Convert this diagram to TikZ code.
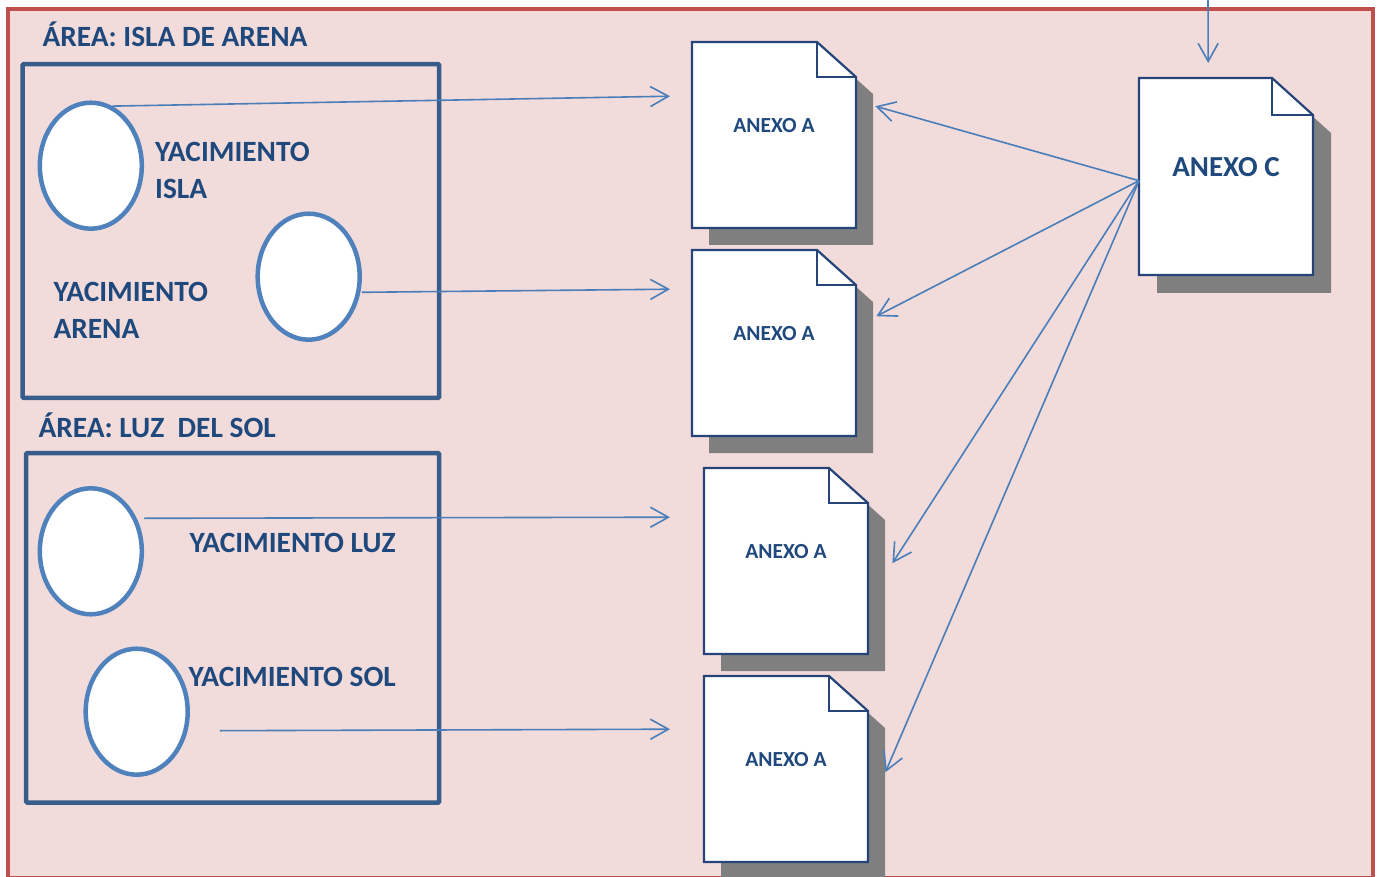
\documentclass[tikz,border=0pt]{standalone}
\usepackage{fontspec}
\setmainfont{Carlito}
\usepackage{tikz}
\usetikzlibrary{arrows.meta,shapes.geometric}

\definecolor{fondo}{RGB}{242,220,219}
\definecolor{marco}{RGB}{192,80,77}
\definecolor{caja}{RGB}{56,93,138}
\definecolor{elipse}{RGB}{79,129,189}
\definecolor{texto}{RGB}{31,73,125}
\definecolor{flecha}{RGB}{74,126,187}
\definecolor{sombra}{RGB}{127,127,127}
\definecolor{borde}{RGB}{36,68,122}

\tikzset{
  area/.style={draw=caja, line width=4.5pt, rounded corners=1pt},
  yac/.style={ellipse, draw=elipse, fill=white, line width=4.5pt, inner sep=0pt,
    minimum width=102pt, minimum height=126pt},
  rotulo/.style={text=texto, font=\fontsize{29.4}{36.6}\selectfont\bfseries,
    anchor=base west, inner sep=0pt, align=left},
  hoja/.style={draw=borde, fill=white, line width=2.2pt, line join=miter},
  conn/.style={draw=flecha, line width=1.6pt, -{Straight Barb[length=18pt,width=20pt]}}
}

\begin{document}
\begin{tikzpicture}[x=1pt, y=-1pt]
  \useasboundingbox (0,0) rectangle (1381,877);
  \clip (0,0) rectangle (1381,877);
  \filldraw[fill=fondo, draw=marco, line width=4.3pt] (7.8,8.7) rectangle (1372.7,878);

  % areas
  \node[rotulo] (t1) at (42.3,46.7) {ÁREA: ISLA DE ARENA};
  \draw[area] (22.5,64.2) rectangle (439.2,397.8);
  \node[rotulo] (t2) at (38.3,437.7) {ÁREA: LUZ \ DEL SOL};
  \draw[area] (26.2,453.2) rectangle (439.2,802.5);

  % yacimientos
  \node[yac] (isla) at (90.8,165.7) {};
  \node[yac] (arena) at (308.7,276.7) {};
  \node[yac] (luz) at (90.8,551.3) {};
  \node[yac] (sol) at (136.7,711.7) {};
  \node[rotulo] (lisla) at (155,198.3) {YACIMIENTO\\ISLA};
  \node[rotulo] (larena) at (53.3,338.3) {YACIMIENTO\\ARENA};
  \node[rotulo] (lluz) at (189.3,552.7) {YACIMIENTO LUZ};
  \node[rotulo] (lsol) at (188.3,686.7) {YACIMIENTO SOL};

  % anexos
  \foreach \n/\x/\y/\w/\h/\f/\g/\s/\b/\fs/\t in {a1/692/42/164/186/39/35/17/90.3/21.5/ANEXO A,
      a2/692/250/164/186/39/35/17/90.3/21.5/ANEXO A,
      a3/704/468/164/186/39/35/17/90.3/21.5/ANEXO A,
      a4/704/676/164/186/39/35/17/90.3/21.5/ANEXO A,
      c/1139/78/174/197/41/37/18/99/29/ANEXO C}
  {
    \fill[sombra] (\x+\s,\y+\s) -- ++(\w-\f,0) -- ++(\f,\g) -- ++(0,\h-\g) -- ++(-\w,0) -- cycle;
    \filldraw[hoja] (\x,\y) -- ++(\w-\f,0) -- ++(\f,\g) -- ++(0,\h-\g) -- ++(-\w,0) -- cycle;
    \draw[hoja, fill=none] (\x+\w-\f,\y) -- ++(0,\g) -- ++(\f,0);
    \node[anchor=north west, minimum width=\w pt, minimum height=\h pt, inner sep=0pt] (\n) at (\x,\y) {};
    \node[anchor=base, inner sep=0pt, text=texto, font=\fontsize{\fs}{\fs}\selectfont\bfseries] (\n t) at (\x+\w/2,\y+\b) {\t};
  }

  % flechas
  \coordinate (arriba) at (1208,-2);
  \draw[conn] (isla.70) -- ([xshift=-22pt,yshift=39pt]a1.west);
  \draw[conn] ([yshift=-15.6pt]arena.east) -- ([xshift=-22pt,yshift=54pt]a2.west);
  \draw[conn] ([yshift=33pt]luz.east) -- ([xshift=-34pt,yshift=44pt]a3.west);
  \draw[conn] ([xshift=30pt,yshift=-19pt]sol.east) -- ([xshift=-34pt,yshift=40pt]a4.west);
  \draw[conn] ([yshift=-4pt]c.west) -- ([xshift=19pt,yshift=29pt]a1.east);
  \draw[conn] ([yshift=-4pt]c.west) -- ([xshift=20pt,yshift=27pt]a2.east);
  \draw[conn] ([yshift=-4pt]c.west) -- ([xshift=24pt,yshift=-2pt]a3.east);
  \draw[conn] ([yshift=-4pt]c.west) -- ([xshift=17pt,yshift=-3pt]a4.east);
  \draw[conn] (arriba) -- ([xshift=-18pt,yshift=15pt]c.north);
\end{tikzpicture}
\end{document}
